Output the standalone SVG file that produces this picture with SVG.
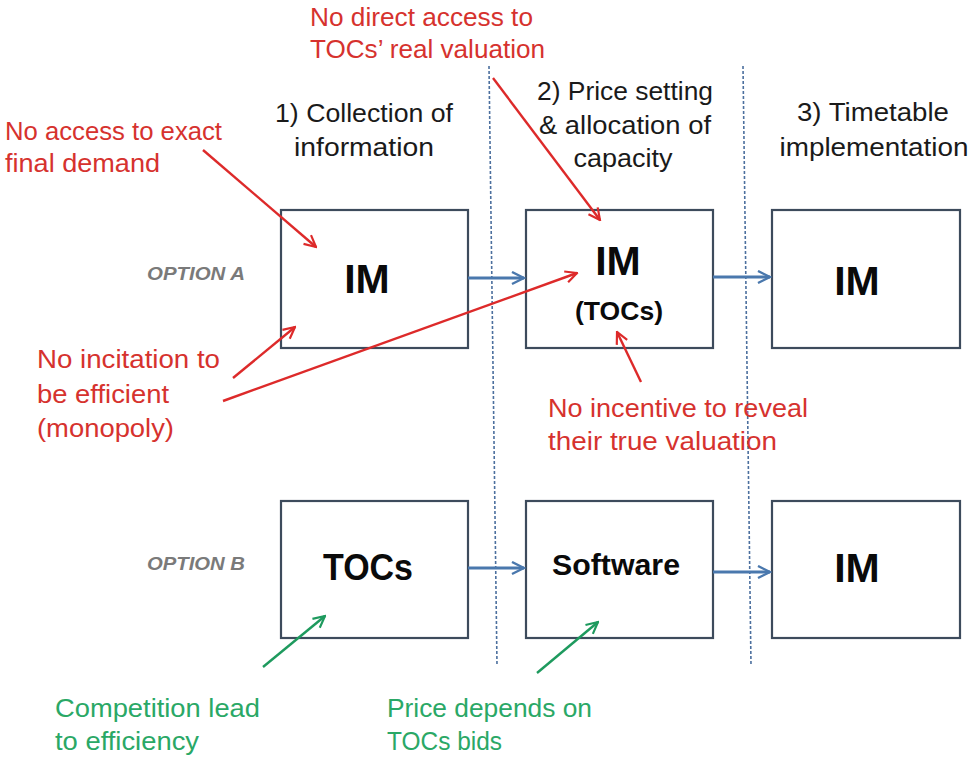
<svg xmlns="http://www.w3.org/2000/svg" width="971" height="761" viewBox="0 0 971 761">
<defs>
<style>
.box{fill:#fff;stroke:#3d4b5c;stroke-width:2.2}
.hdr{font-family:"Liberation Sans",Arial,sans-serif;font-size:26px;fill:#1a1a1a;text-anchor:middle}
.lbl{font-family:"Liberation Sans",Arial,sans-serif;font-weight:bold;fill:#0a0a0a;text-anchor:middle}
.opt{font-family:"Liberation Sans",Arial,sans-serif;font-weight:bold;font-style:italic;font-size:19px;fill:#7a7a7a}
.red{font-family:"Liberation Sans",Arial,sans-serif;font-size:25px;fill:#d6322e}
.grn{font-family:"Liberation Sans",Arial,sans-serif;font-size:25px;fill:#2aa866}
.div{stroke:#4b6f9e;stroke-width:1.6;stroke-dasharray:3 2;fill:none}
.flow{stroke:#4a78ad;stroke-width:3;fill:none;marker-end:url(#mb)}
.ra{stroke:#dd2a2a;stroke-width:2.4;fill:none;marker-end:url(#mr)}
.ga{stroke:#1e9a5e;stroke-width:2.4;fill:none;marker-end:url(#mg)}
</style>
<marker id="mb" viewBox="0 0 10 10" refX="9" refY="5" markerWidth="5" markerHeight="5" orient="auto" markerUnits="strokeWidth"><path d="M1,1 L9,5 L1,9" fill="none" stroke="#4a78ad" stroke-width="1.6"/></marker>
<marker id="mr" viewBox="0 0 10 10" refX="9" refY="5" markerWidth="6" markerHeight="6" orient="auto" markerUnits="strokeWidth"><path d="M1,1 L9,5 L1,9" fill="none" stroke="#dd2a2a" stroke-width="1.5"/></marker>
<marker id="mg" viewBox="0 0 10 10" refX="9" refY="5" markerWidth="6" markerHeight="6" orient="auto" markerUnits="strokeWidth"><path d="M1,1 L9,5 L1,9" fill="none" stroke="#1e9a5e" stroke-width="1.5"/></marker>
</defs>
<rect width="971" height="761" fill="#fff"/>

<g id="dividers">
<line class="div" x1="489" y1="66" x2="497" y2="665"/>
<line class="div" x1="743" y1="66" x2="751" y2="665"/>
</g>

<g id="headers">
<text class="hdr" x="364" y="122" textLength="178" lengthAdjust="spacingAndGlyphs">1) Collection of</text>
<text class="hdr" x="364" y="156" textLength="140" lengthAdjust="spacingAndGlyphs">information</text>
<text class="hdr" x="625" y="100" textLength="176" lengthAdjust="spacingAndGlyphs">2) Price setting</text>
<text class="hdr" x="625" y="134" textLength="172" lengthAdjust="spacingAndGlyphs">&amp; allocation of</text>
<text class="hdr" x="623" y="167" textLength="99" lengthAdjust="spacingAndGlyphs">capacity</text>
<text class="hdr" x="873" y="121" textLength="152" lengthAdjust="spacingAndGlyphs">3) Timetable</text>
<text class="hdr" x="874" y="156" textLength="189" lengthAdjust="spacingAndGlyphs">implementation</text>
</g>

<g id="options">
<text class="opt" x="147" y="280" textLength="98" lengthAdjust="spacingAndGlyphs">OPTION A</text>
<text class="opt" x="147" y="570" textLength="98" lengthAdjust="spacingAndGlyphs">OPTION B</text>
</g>

<g id="a1"><rect class="box" x="281" y="210" width="187" height="138"/><text class="lbl" x="367" y="293" font-size="41">IM</text></g>
<g id="a2"><rect class="box" x="526" y="210" width="187" height="138"/><text class="lbl" x="618" y="275" font-size="41">IM</text><text class="lbl" x="619" y="320" font-size="26" textLength="88" lengthAdjust="spacingAndGlyphs">(TOCs)</text></g>
<g id="a3"><rect class="box" x="772" y="210" width="188" height="138"/><text class="lbl" x="857" y="295" font-size="41">IM</text></g>
<g id="b1"><rect class="box" x="281" y="501" width="187" height="137"/><text class="lbl" x="368" y="580" font-size="36" textLength="90" lengthAdjust="spacingAndGlyphs">TOCs</text></g>
<g id="b2"><rect class="box" x="526" y="501" width="187" height="137"/><text class="lbl" x="616" y="575" font-size="29" textLength="128" lengthAdjust="spacingAndGlyphs">Software</text></g>
<g id="b3"><rect class="box" x="772" y="501" width="188" height="137"/><text class="lbl" x="857" y="582" font-size="41">IM</text></g>

<g id="annotations">
<text class="red" x="310" y="26" textLength="223" lengthAdjust="spacingAndGlyphs">No direct access to</text>
<text class="red" x="310" y="58" textLength="235" lengthAdjust="spacingAndGlyphs">TOCs’ real valuation</text>
<text class="red" x="5" y="140" textLength="217" lengthAdjust="spacingAndGlyphs">No access to exact</text>
<text class="red" x="5" y="172" textLength="155" lengthAdjust="spacingAndGlyphs">final demand</text>
<text class="red" x="37" y="368" textLength="183" lengthAdjust="spacingAndGlyphs">No incitation to</text>
<text class="red" x="37" y="403" textLength="132" lengthAdjust="spacingAndGlyphs">be efficient</text>
<text class="red" x="37" y="437" textLength="137" lengthAdjust="spacingAndGlyphs">(monopoly)</text>
<text class="red" x="548" y="417" textLength="260" lengthAdjust="spacingAndGlyphs">No incentive to reveal</text>
<text class="red" x="548" y="450" textLength="229" lengthAdjust="spacingAndGlyphs">their true valuation</text>
<text class="grn" x="55" y="717" textLength="205" lengthAdjust="spacingAndGlyphs">Competition lead</text>
<text class="grn" x="55" y="750" textLength="144" lengthAdjust="spacingAndGlyphs">to efficiency</text>
<text class="grn" x="387" y="717" textLength="205" lengthAdjust="spacingAndGlyphs">Price depends on</text>
<text class="grn" x="387" y="750" textLength="115" lengthAdjust="spacingAndGlyphs">TOCs bids</text>
</g>

<g id="connectors">
<line class="flow" x1="468" y1="278" x2="524" y2="278"/>
<line class="flow" x1="713" y1="277" x2="770" y2="277"/>
<line class="flow" x1="468" y1="568" x2="524" y2="568"/>
<line class="flow" x1="713" y1="572" x2="770" y2="572"/>
<line class="ra" x1="203" y1="150" x2="316" y2="247"/>
<line class="ra" x1="493" y1="78" x2="600" y2="220"/>
<line class="ra" x1="233" y1="378" x2="295" y2="327"/>
<line class="ra" x1="223" y1="401" x2="577" y2="273"/>
<line class="ra" x1="641" y1="382" x2="617" y2="332"/>
<line class="ga" x1="263" y1="667" x2="325" y2="616"/>
<line class="ga" x1="537" y1="673" x2="598" y2="622"/>
</g>
</svg>
